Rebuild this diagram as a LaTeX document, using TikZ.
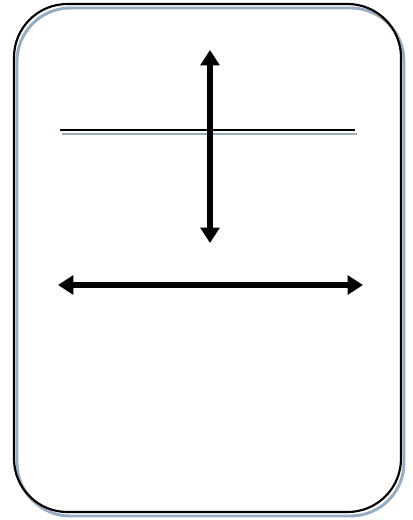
\documentclass[tikz,border=0pt]{standalone}
\usetikzlibrary{arrows.meta}
\definecolor{shadowblue}{RGB}{150,172,194}

\begin{document}
\begin{tikzpicture}[
  x=0.75pt,y=-0.75pt,
  card/.style={rounded corners=40pt,line width=1.6pt,draw=black},
  cardshadow/.style={card,line width=2.2pt,draw=shadowblue},
  rule/.style={line width=1.1pt,draw=black},
  ruleshadow/.style={rule,line width=1.5pt,draw=shadowblue},
  arr/.style={{Triangle[length=11.5pt,width=14pt]}-{Triangle[length=11.5pt,width=14pt]},
    line width=3.8pt}]

  \useasboundingbox (0,0) rectangle (413,520);

  % card with its shadow
  \draw[cardshadow] (17,8) rectangle (404,516);
  \draw[card] (14,4) rectangle (401,512);

  % horizontal rule
  \coordinate (ruleL) at (60,130);
  \coordinate (ruleR) at (355,130);
  \draw[ruleshadow] ([shift={(2,4)}]ruleL) -- ([shift={(2,4)}]ruleR);
  \draw[rule] (ruleL) -- (ruleR);

  % arrows
  \coordinate (top) at (210,50);
  \coordinate (bottom) at (210,243);
  \coordinate (left) at (58,285);
  \coordinate (right) at (363,285);
  \draw[arr] (top) -- (bottom);
  \draw[arr] (left) -- (right);

\end{tikzpicture}
\end{document}
